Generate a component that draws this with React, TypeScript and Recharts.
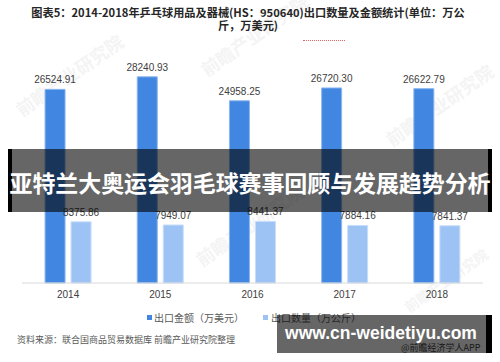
import React from 'react';
import { BarChart, Bar, XAxis, YAxis, LabelList } from 'recharts';

const categories = ['2014', '2015', '2016', '2017', '2018'];
const amountValues = [26524.91, 28240.93, 24958.25, 26720.3, 26622.79];
const quantityValues = [8375.86, 7949.07, 8441.37, 7884.16, 7841.37];
const seriesNames = ['出口金额（万美元）', '出口数量（万公斤）'];

const data = categories.map((c, i) => ({
  year: c,
  amount: amountValues[i],
  quantity: quantityValues[i],
}));

const BLUE = '#4186E0';
const LIGHT = '#9DC3F5';
const CJK = '"Noto Sans CJK SC", "Noto Sans", sans-serif';
const SANS = '"Liberation Sans", Arial, sans-serif';

const fmt = (v: any) => Number(v).toFixed(2);

const watermarks = [
  { x: 10, y: 100, s: 18 },
  { x: 195, y: 60, s: 18 },
  { x: 190, y: 250, s: 18 },
  { x: 380, y: 130, s: 18 },
  { x: 400, y: 300, s: 14 },
];

export default function App() {
  return (
    <div
      style={{
        position: 'fixed',
        left: 0,
        top: 0,
        width: 500,
        height: 362,
        background: '#fff',
        overflow: 'hidden',
        fontFamily: CJK,
      }}
    >
      {watermarks.map((w, i) => (
        <div
          key={i}
          style={{
            position: 'absolute',
            left: w.x,
            top: w.y,
            fontSize: w.s,
            fontWeight: 700,
            color: '#f4f4f4',
            transform: 'rotate(-35deg)',
            transformOrigin: 'left top',
            whiteSpace: 'nowrap',
          }}
        >
          前瞻产业研究院
        </div>
      ))}
      <div style={{ position: 'absolute', left: 0, top: 0 }}>
        <BarChart
          width={500}
          height={362}
          data={data}
          margin={{ top: 64, right: 17, left: 22, bottom: 49 }}
          barCategoryGap="25%"
          barGap={6}
        >
          <XAxis
            dataKey="year"
            axisLine={{ stroke: '#d9d9d9' }}
            tickLine={false}
            tick={{ fill: '#404040', fontSize: 10, fontFamily: SANS }}
            height={30}
          />
          <YAxis hide domain={[0, 30000]} width={0} />
          <Bar dataKey="amount" fill={BLUE} stroke="#8CB6F0" strokeWidth={1} isAnimationActive={false}>
            <LabelList dataKey="amount" position="top" formatter={fmt} fill="#404040" fontSize={10} fontFamily={SANS} offset={6} />
          </Bar>
          <Bar dataKey="quantity" fill={LIGHT} stroke="#C8DDF9" strokeWidth={1} isAnimationActive={false}>
            <LabelList dataKey="quantity" position="top" formatter={fmt} fill="#404040" fontSize={10} fontFamily={SANS} offset={6} />
          </Bar>
        </BarChart>
      </div>

      {/* title */}
      <div
        style={{
          position: 'absolute',
          left: 0,
          top: 6,
          width: 496,
          textAlign: 'center',
          fontSize: 11.2,
          fontWeight: 700,
          color: '#262626',
          lineHeight: '13px',
        }}
      >
        <div style={{ whiteSpace: 'nowrap' }}>图表5：2014-2018年乒乓球用品及器械(HS：950640)出口数量及金额统计(单位：万公</div>
        <div style={{ whiteSpace: 'nowrap' }}>斤，万美元)</div>
      </div>
      <div
        style={{
          position: 'absolute',
          left: 303,
          top: 40,
          width: 42,
          borderTop: '1px dotted #e06666',
        }}
      />

      {/* legend */}
      <div
        style={{
          position: 'absolute',
          left: 147,
          top: 310,
          display: 'flex',
          alignItems: 'center',
          fontSize: 10,
          color: '#595959',
          whiteSpace: 'nowrap',
        }}
      >
        <span style={{ display: 'inline-block', width: 5, height: 5, background: BLUE, marginRight: 2 }} />
        <span>{seriesNames[0]}</span>
        <span style={{ display: 'inline-block', width: 5, height: 5, background: LIGHT, marginLeft: 19, marginRight: 3 }} />
        <span>{seriesNames[1]}</span>
      </div>

      {/* footer */}
      <div
        style={{
          position: 'absolute',
          left: 17,
          top: 333,
          fontSize: 9,
          color: '#595959',
          whiteSpace: 'nowrap',
        }}
      >
        资料来源：联合国商品贸易数据库 前瞻产业研究院整理
      </div>
      <div
        style={{
          position: 'absolute',
          left: 401,
          top: 341,
          fontSize: 9,
          color: '#404040',
          whiteSpace: 'nowrap',
        }}
      >
        @前瞻经济学人APP
      </div>

      {/* center banner */}
      <div
        style={{
          position: 'absolute',
          left: 8,
          top: 149,
          width: 484,
          height: 63,
          background: 'rgba(0,0,0,0.6)',
          borderLeft: '4px solid #000',
          borderRight: '4px solid #000',
          boxSizing: 'border-box',
        }}
      />
      <div
        style={{
          position: 'absolute',
          left: 0,
          top: 167,
          width: 500,
          textAlign: 'center',
          fontSize: 23,
          fontWeight: 700,
          color: '#fff',
          lineHeight: '30px',
          whiteSpace: 'nowrap',
          letterSpacing: -0.1,
        }}
      >
        亚特兰大奥运会羽毛球赛事回顾与发展趋势分析
      </div>

      {/* bottom-right banner */}
      <div
        style={{
          position: 'absolute',
          left: 277,
          top: 315,
          width: 215,
          height: 38,
          background: 'rgba(0,0,0,0.6)',
          borderRight: '6px solid #000',
          boxSizing: 'border-box',
        }}
      />
      <div
        style={{
          position: 'absolute',
          left: 277,
          top: 322,
          width: 208,
          textAlign: 'center',
          fontSize: 17.5,
          fontWeight: 700,
          fontFamily: SANS,
          color: '#fff',
          lineHeight: '22px',
          whiteSpace: 'nowrap',
        }}
      >
        www.cn-weidetiyu.com
      </div>
    </div>
  );
}
